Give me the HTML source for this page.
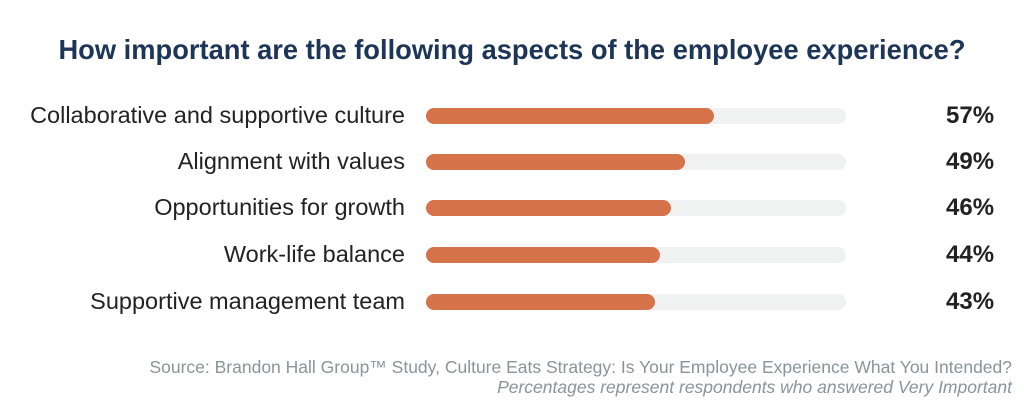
<!DOCTYPE html>
<html><head><style>
body{margin:0;width:1024px;height:418px;background:#fff;font-family:"Liberation Sans",sans-serif;position:relative;overflow:hidden}
.t{position:absolute;top:34px;left:0;width:1024px;text-align:center;font-size:27.3px;font-weight:bold;color:#1d3557}
.l{position:absolute;right:619px;font-size:23.5px;color:#222;white-space:nowrap}
.tr{position:absolute;left:426px;width:420px;height:16px;border-radius:8px;background:#f0f1f1}
.b{position:absolute;left:0;top:0;height:16px;border-radius:8px;background:#d6734a}
.p{position:absolute;left:946px;font-size:24px;font-weight:bold;color:#222}
.s{position:absolute;right:12px;font-size:17.5px;color:#8a9499;white-space:nowrap}
</style></head><body>
<div class="t">How important are the following aspects of the employee experience?</div>

<div class="l" style="top:102px">Collaborative and supportive culture</div>
<div class="tr" style="top:108px"><div class="b" style="width:288px"></div></div>
<div class="p" style="top:102px">57%</div>

<div class="l" style="top:148px">Alignment with values</div>
<div class="tr" style="top:154px"><div class="b" style="width:259px"></div></div>
<div class="p" style="top:148px">49%</div>

<div class="l" style="top:194px">Opportunities for growth</div>
<div class="tr" style="top:200px"><div class="b" style="width:245px"></div></div>
<div class="p" style="top:194px">46%</div>

<div class="l" style="top:241px">Work-life balance</div>
<div class="tr" style="top:247px"><div class="b" style="width:234px"></div></div>
<div class="p" style="top:241px">44%</div>

<div class="l" style="top:288px">Supportive management team</div>
<div class="tr" style="top:294px"><div class="b" style="width:229px"></div></div>
<div class="p" style="top:288px">43%</div>

<div class="s" style="top:357px">Source: Brandon Hall Group™ Study, Culture Eats Strategy: Is Your Employee Experience What You Intended?</div>
<div class="s" style="top:377px;font-style:italic">Percentages represent respondents who answered Very Important</div>
</body></html>
